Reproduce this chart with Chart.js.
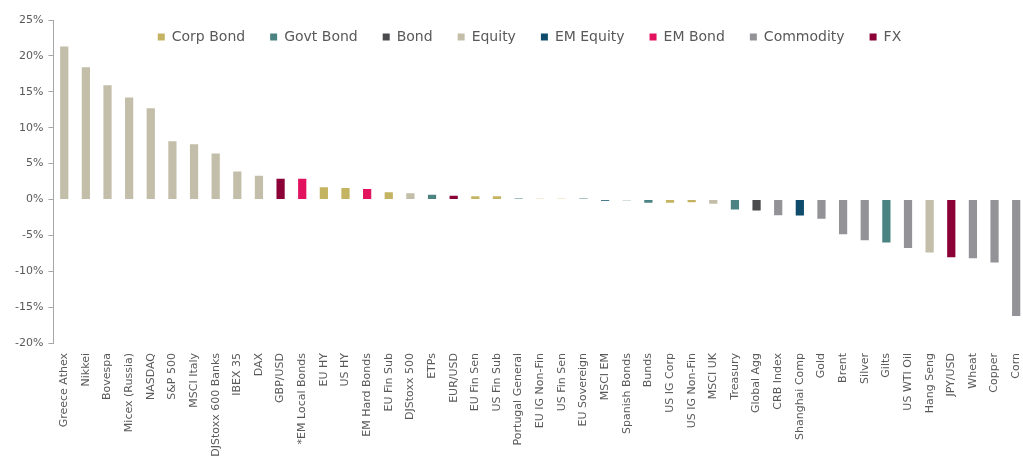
<!DOCTYPE html>
<html>
<head>
<meta charset="utf-8">
<script src="https://cdn.jsdelivr.net/npm/chart.js@4"></script>
<style>
  html, body { margin: 0; padding: 0; background: #fff; }
</style>
</head>
<body>
<canvas id="myChart" width="1023" height="465"></canvas>
<script>
const labels = ['Greece Athex', 'Nikkei', 'Bovespa', 'Micex (Russia)', 'NASDAQ', 'S&P 500', 'MSCI Italy',
  'DJStoxx 600 Banks', 'IBEX 35', 'DAX', 'GBP/USD', '*EM Local Bonds', 'EU HY', 'US HY', 'EM Hard Bonds',
  'EU Fin Sub', 'DJStoxx 500', 'ETPs', 'EUR/USD', 'EU Fin Sen', 'US Fin Sub', 'Portugal General',
  'EU IG Non-Fin', 'US Fin Sen', 'EU Sovereign', 'MSCI EM', 'Spanish Bonds', 'Bunds', 'US IG Corp',
  'US IG Non-Fin', 'MSCI UK', 'Treasury', 'Global Agg', 'CRB Index', 'Shanghai Comp', 'Gold', 'Brent',
  'Silver', 'Gilts', 'US WTI Oil', 'Hang Seng', 'JPY/USD', 'Wheat', 'Copper', 'Corn']

const valores = [21.3, 18.4, 15.9, 14.2, 12.7, 8.1, 7.7,
  6.4, 3.9, 3.3, 2.9, 2.9, 1.7, 1.6, 1.45,
  1.0, 0.85, 0.65, 0.5, 0.45, 0.45, 0.12,
  0.1, 0.1, 0.12, -0.18, -0.12, -0.45, -0.45,
  -0.4, -0.6, -1.4, -1.55, -2.2, -2.25, -2.7, -4.85,
  -5.7, -6.0, -6.75, -7.4, -8.05, -8.2, -8.8, -16.25]

// classe de cada ativo (indice em grupos)
const classes = [3, 3, 3, 3, 3, 3, 3,
  3, 3, 3, 7, 5, 0, 0, 5,
  0, 3, 1, 7, 0, 0, 1,
  0, 0, 1, 4, 1, 1, 0,
  0, 3, 1, 2, 6, 4, 6, 6,
  6, 1, 6, 3, 7, 6, 6, 6]

const grupos = ['Corp Bond', 'Govt Bond', 'Bond', 'Equity', 'EM Equity', 'EM Bond', 'Commodity', 'FX']
const cores = ['#c4b462', '#4b8282', '#4b4b4d', '#c3bea9', '#0f4c6b', '#e2125f', '#939397', '#8a0037']

const yTicks = [-20, -15, -10, -5, 0, 5, 10, 15, 20, 25]

const cinza = '#595959'
const fonte = "'DejaVu Sans', Verdana, sans-serif"

// legenda por cima do grafico, sem ocupar espaco no layout
// e eixo x um pouco alem da borda direita, como no original
const ajusteLayout = {
  id: 'ajusteLayout',
  beforeLayout(chart) {
    const lg = chart.legend
    if (lg && !lg._semAltura) {
      const fitOriginal = lg.fit
      lg.fit = function () {
        fitOriginal.call(this)
        this.height = 0
      }
      lg._semAltura = true
    }
  },
  afterLayout(chart) {
    const lg = chart.legend
    lg.top = 5
    lg.bottom = 62
    lg.height = 57
    lg.left += 13
    lg.right += 13

    const x = chart.scales.x
    x.right += 4
    x.width += 4
    x.configure()
    chart.chartArea.right += 4
    chart.chartArea.width += 4
  }
}

const ctx = document.getElementById('myChart')

new Chart(ctx, {
  type: 'bar',
  data: {
    labels: labels,
    datasets: [{
      data: valores,
      backgroundColor: classes.map(c => cores[c]),
      categoryPercentage: 1,
      barPercentage: 0.38
    }]
  },
  options: {
    responsive: false,
    animation: false,
    devicePixelRatio: 1,
    layout: { padding: { left: 10, top: 20, right: 0, bottom: 0 } },
    plugins: {
      tooltip: { enabled: false },
      legend: {
        position: 'top',
        align: 'center',
        labels: {
          boxWidth: 7,
          boxHeight: 7,
          padding: 25,
          color: cinza,
          font: { family: fonte, size: 14 },
          generateLabels: () => grupos.map((g, i) => ({
            text: g,
            fillStyle: cores[i],
            strokeStyle: cores[i],
            lineWidth: 0,
            fontColor: cinza,
            hidden: false,
            index: i
          }))
        }
      }
    },
    scales: {
      x: {
        grid: { display: false },
        border: { display: false },
        ticks: {
          autoSkip: false,
          minRotation: 90,
          maxRotation: 90,
          padding: 2,
          color: cinza,
          font: { family: fonte, size: 11 }
        },
        afterFit: (scale) => {
          scale.height = 122
          scale.paddingLeft = 0
          scale.paddingRight = 0
        }
      },
      y: {
        min: -20,
        max: 25,
        afterBuildTicks: (scale) => { scale.ticks = yTicks.map(v => ({ value: v })) },
        grid: { drawOnChartArea: false, drawTicks: true, tickLength: 5, color: '#a6a6a6' },
        border: { display: true, color: '#a6a6a6' },
        ticks: {
          padding: 5,
          color: cinza,
          font: { family: fonte, size: 11 },
          callback: (v) => v + '%'
        }
      }
    }
  },
  plugins: [ajusteLayout]
})
</script>
</body>
</html>
